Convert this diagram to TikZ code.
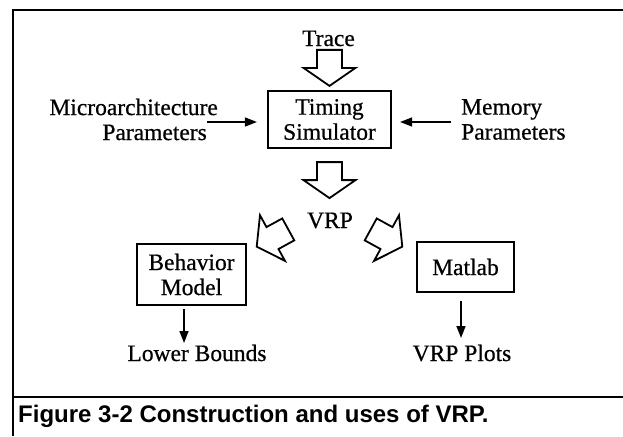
\documentclass[tikz,border=0pt]{standalone}
\usepackage{fontspec}
\setmainfont{Liberation Serif}[FakeBold=0.6]
\newfontfamily\capfont{Liberation Sans}
\usetikzlibrary{arrows.meta,calc}

\tikzset{
  lbl/.style={font=\fontsize{23.5}{25}\selectfont, inner sep=0pt},
  boxnode/.style={lbl, draw, line width=2.2pt, align=center},
  thinarrow/.style={line width=1.6pt, -{Triangle[length=12pt,width=9pt]}},
  framerule/.style={line width=2.2pt},
  % hollow block arrow, tip at the origin, body along -x
  pics/fatarrow/.style={code={
    \draw[line width=1.8pt, line join=miter]
      (0,0) -- (-18,-26) -- (-18,-12.5) -- (-36,-12.5) -- (-36,12.5)
      -- (-18,12.5) -- (-18,26) -- cycle;}}
}

\begin{document}
\begin{tikzpicture}[x=1pt,y=-1pt]
\useasboundingbox (0,0) rectangle (623,436);

% frame and caption rule
\draw[framerule] (13,436) -- (13,10) -- (623,10);
\draw[framerule] (13,397) -- (623,397);

% boxes
\node[boxnode, minimum width=123pt, minimum height=57pt] (timing) at (329.5,119.5) {Timing\\Simulator};
\node[boxnode, minimum width=109pt, minimum height=61pt] (behav) at (191.5,274.5) {Behavior\\Model};
\node[boxnode, minimum width=97pt, minimum height=50pt] (matlab) at (465.5,267) {Matlab};

% plain labels
\node[lbl, anchor=base] (trace) at (328.5,46) {Trace};
\node[lbl, anchor=base] (vrp) at (330,228) {VRP};
\node[lbl, anchor=base] (lower) at (197,361) {Lower Bounds};
\node[lbl, anchor=base] (plots) at (462,361) {VRP Plots};
\node[lbl, align=right, anchor=east] (micro) at (218,119.5) {Microarchitecture\\Parameters\hspace*{11pt}};
\node[lbl, align=left, anchor=west] (mem) at (461,119.5) {Memory\\Parameters};

% caption
\node[anchor=base west, inner sep=0pt, font=\capfont\bfseries\fontsize{24}{26}\selectfont] (cap) at (18,422) {Figure 3-2 Construction and uses of VRP.};

% block arrows
\pic[rotate=-90] at ([yshift=4pt]timing.north) {fatarrow};
\pic[rotate=-90] at ([yshift=-49pt]timing.south) {fatarrow};
\pic[rotate=208.7] at ([xshift=-73.3pt,yshift=-18.7pt]vrp.base) {fatarrow};
\pic[rotate=-28.7] at ([xshift=72.3pt,yshift=-18.7pt]vrp.base) {fatarrow};

% parameter inputs
\draw[thinarrow] ([xshift=-11pt,yshift=-2.5pt]micro.east) -- ([xshift=-10pt,yshift=-2.5pt]timing.west);
\draw[thinarrow] ([xshift=-10pt,yshift=-2.5pt]mem.west) -- ([xshift=8pt,yshift=-2.5pt]timing.east);

% outputs
\draw[thinarrow] ([xshift=-7.5pt,yshift=-3pt]behav.south) -- ([xshift=-13pt,yshift=18pt]lower.base);
\draw[thinarrow] ([xshift=-4.5pt,yshift=-8pt]matlab.south) -- ([xshift=-1pt,yshift=23pt]plots.base);
\end{tikzpicture}
\end{document}
